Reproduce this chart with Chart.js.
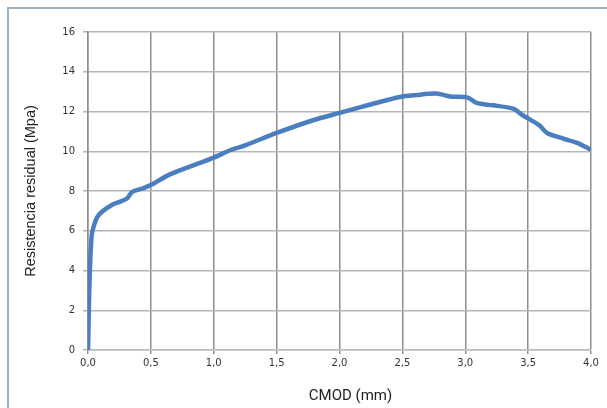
<!DOCTYPE html>
<html lang="es">
<head>
    <meta charset="UTF-8">
    <title>Resistencia residual vs CMOD</title>
    <style>
        body {
            margin: 0;
            padding: 0;
            background: #fff;
            overflow: hidden;
        }

        .frame {
            position: absolute;
            left: 7px;
            top: 7px;
            width: 700px;
            height: 500px;
            border: 2px solid #9cb1c6;
        }

        .wrap {
            position: absolute;
            left: 0;
            top: 0;
            width: 607px;
            height: 408px;
        }
    </style>
</head>
<body>
    <div class="frame"></div>
    <div class="wrap">
        <canvas id="cmodChart" width="607" height="408"></canvas>
    </div>

    <script src="https://cdn.jsdelivr.net/npm/chart.js"></script>
    <script>
        // valores
        const cmod = [0, 0.005, 0.01, 0.015, 0.02, 0.025, 0.03, 0.04, 0.06, 0.08, 0.12, 0.19, 0.25, 0.31, 0.35,
            0.42, 0.5, 0.64, 0.8, 1.0, 1.13, 1.25, 1.5, 1.79, 2.0, 2.19, 2.32, 2.48, 2.6, 2.77, 2.88, 3.02,
            3.09, 3.22, 3.38, 3.46, 3.59, 3.65, 3.78, 3.89, 4.0];
        const resistencia = [0, 1.5, 3.0, 4.0, 4.8, 5.4, 5.8, 6.1, 6.5, 6.75, 7.0, 7.3, 7.45, 7.62, 7.95,
            8.1, 8.3, 8.8, 9.2, 9.68, 10.05, 10.3, 10.92, 11.56, 11.93, 12.26, 12.48, 12.73, 12.82, 12.9, 12.76, 12.7,
            12.43, 12.31, 12.14, 11.8, 11.3, 10.92, 10.64, 10.42, 10.07];
        const xTickLabels = ['0,0', '0,5', '1,0', '1,5', '2,0', '2,5', '3,0', '3,5', '4,0'];
        const yTickLabels = ['0', '2', '4', '6', '8', '10', '12', '14', '16'];
        const xTitle = 'CMOD (mm)';

        const puntos = cmod.map((x, i) => ({ x: x, y: resistencia[i] }));

        // titulo del eje x, un poco a la derecha del centro como en el original
        const xTitlePlugin = {
            id: 'xTitle',
            afterDraw(chart) {
                const c = chart.ctx;
                c.save();
                c.font = '15px Roboto';
                c.fillStyle = '#222';
                c.textAlign = 'center';
                c.textBaseline = 'middle';
                c.fillText(xTitle, chart.chartArea.left + (chart.chartArea.right - chart.chartArea.left) / 2 + 11, 396);
                c.restore();
            }
        };

        const ctx = document.getElementById('cmodChart').getContext('2d');
        new Chart(ctx, {
            type: 'line',
            data: {
                datasets: [{
                    data: puntos,
                    borderColor: '#4a7ebf',
                    borderWidth: 4.5,
                    pointRadius: 0,
                    tension: 0.3,
                    fill: false
                }]
            },
            options: {
                responsive: false,
                animation: false,
                layout: {
                    padding: { left: 10, right: 16, top: 32, bottom: 0 }
                },
                plugins: {
                    legend: { display: false },
                    tooltip: { enabled: false }
                },
                scales: {
                    x: {
                        type: 'linear',
                        min: 0,
                        max: 4,
                        ticks: {
                            stepSize: 0.5,
                            padding: 3,
                            color: '#333',
                            font: { family: 'DejaVu Sans', size: 10 },
                            maxRotation: 0,
                            callback: (v, i) => xTickLabels[i]
                        },
                        grid: {
                            color: '#8e8e8e',
                            lineWidth: 1.5,
                            tickLength: 4
                        },
                        border: { color: '#bdbdbd', width: 1.5 },
                        afterFit: (scale) => { scale.height = 58; }
                    },
                    y: {
                        min: 0,
                        max: 16,
                        ticks: {
                            stepSize: 2,
                            padding: 8,
                            color: '#333',
                            font: { family: 'DejaVu Sans', size: 10 },
                            callback: (v, i) => yTickLabels[i]
                        },
                        grid: {
                            color: '#b5b5b5',
                            lineWidth: 1.5,
                            tickLength: 5
                        },
                        border: { color: '#8e8e8e', width: 1.5 },
                        title: {
                            display: true,
                            text: 'Resistencia residual (Mpa)',
                            color: '#222',
                            font: { family: 'Liberation Sans', size: 14.5 },
                            padding: { top: 12, bottom: 0 }
                        },
                        afterFit: (scale) => { scale.width = 78; }
                    }
                }
            },
            plugins: [xTitlePlugin]
        });
    </script>
</body>
</html>
